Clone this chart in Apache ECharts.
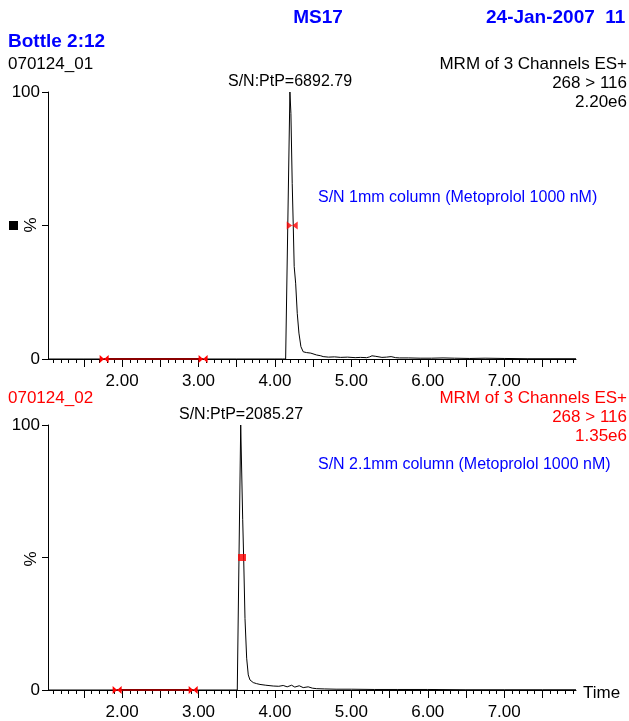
<!DOCTYPE html>
<html>
<head>
<meta charset="utf-8">
<script src="https://cdn.jsdelivr.net/npm/echarts@6/dist/echarts.min.js"></script>
<style>html,body{margin:0;padding:0;background:#fff;}#c{width:629px;height:721px;}</style>
</head>
<body>
<div id="c"></div>
<script>
// ---- data ----
const xMin = 1.03, xMax = 7.94;
const labelValues = [2, 3, 4, 5, 6, 7];
const tickLabels = ['2.00', '3.00', '4.00', '5.00', '6.00', '7.00'];
const majorTicks = [1.5, 2, 2.5, 3, 3.5, 4, 4.5, 5, 5.5, 6, 6.5, 7, 7.5];
const yTicks = [0, 50, 100];
const yLabels = [0, 100];

const topTime = [1.03, 1.5, 2.0, 2.5, 3.0, 3.5, 4.0, 4.10, 4.140, 4.196, 4.209, 4.226, 4.239, 4.252, 4.271, 4.292, 4.314, 4.340, 4.370, 4.414, 4.47, 4.545, 4.60, 4.631, 4.70, 4.78, 4.86, 4.95, 5.05, 5.12, 5.20, 5.24, 5.27, 5.32, 5.40, 5.46, 5.52, 5.58, 5.63, 5.75, 5.90, 6.05, 6.20, 6.35, 6.55, 6.75, 7.0, 7.3, 7.6, 7.94];
const topIntensity = [0, 0, 0, 0, 0, 0, 0, 0, 0, 100, 92, 65.8, 50.9, 34.6, 28.4, 17.1, 9.7, 4.6, 2.7, 2.4, 2.2, 1.5, 1.2, 0.9, 0.7, 0.8, 0.6, 0.7, 0.5, 0.6, 0.5, 0.8, 1.2, 1.0, 0.6, 0.7, 0.9, 0.5, 0.4, 0.4, 0.3, 0.3, 0.4, 0.3, 0.2, 0.3, 0.2, 0.1, 0.1, 0.1];

const botTime = [1.03, 2.0, 3.0, 3.45, 3.507, 3.552, 3.578, 3.591, 3.608, 3.630, 3.651, 3.673, 3.716, 3.76, 3.804, 3.88, 3.978, 4.05, 4.108, 4.16, 4.218, 4.26, 4.318, 4.37, 4.435, 4.49, 4.545, 4.65, 4.8, 5.0, 5.3, 5.6, 6.0, 6.5, 7.0, 7.5, 7.94];
const botIntensity = [0, 0, 0, 0, 0, 100, 64.4, 49.4, 27, 12, 5.7, 3.8, 2.8, 2.4, 2.1, 1.8, 1.5, 1.4, 1.7, 1.2, 1.8, 1.1, 1.6, 0.9, 1.2, 0.7, 0.5, 0.4, 0.3, 0.3, 0.2, 0.2, 0.2, 0.1, 0.1, 0.1, 0.1];

const topNoiseRange = [1.765, 3.06];
const botNoiseRange = [1.935, 2.93];
const topHalfMarker = [4.226, 50];
const botHalfMarker = [3.569, 50];

// ---- chart ----
const FONT = 'Liberation Sans';
const minorTicks = [];
for (let i = 11; i <= 79; i++) minorTicks.push(i / 10);

const grids = [
  { left: 48, right: 53, top: 92, height: 267 },
  { left: 48, right: 53, top: 425, height: 267 }
];

function xAxes(g) {
  return [
    {
      type: 'value', gridIndex: g, min: xMin, max: xMax, position: 'bottom',
      axisLine: { show: true, onZero: false, lineStyle: { color: '#000', width: 1 } },
      axisTick: { show: true, customValues: majorTicks, length: 8, lineStyle: { color: '#000', width: 1 } },
      axisLabel: {
        customValues: labelValues, margin: 14, fontSize: 17, color: '#000', fontFamily: FONT,
        formatter: v => tickLabels[labelValues.indexOf(Math.round(v))] || ''
      },
      splitLine: { show: false }
    },
    {
      type: 'value', gridIndex: g, min: xMin, max: xMax, position: 'bottom',
      axisLine: { show: false },
      axisTick: { show: true, customValues: minorTicks, length: 4, lineStyle: { color: '#000', width: 1 } },
      axisLabel: { show: false },
      splitLine: { show: false }
    }
  ];
}
function yAxis(g) {
  return {
    type: 'value', gridIndex: g, min: 0, max: 100,
    axisLine: { show: true, lineStyle: { color: '#000', width: 1 } },
    axisTick: { show: true, customValues: yTicks, length: 6, lineStyle: { color: '#000' } },
    axisLabel: { customValues: yLabels, margin: 8, fontSize: 17, color: '#000', fontFamily: FONT },
    splitLine: { show: false }
  };
}

const bowtie = 'path://M0,0 L5,4 L0,8 Z M10,0 L5,4 L10,8 Z';

function pairs(t, v) { return t.map((x, i) => [x, v[i]]); }

const series = [
  { type: 'line', xAxisIndex: 0, yAxisIndex: 0, data: pairs(topTime, topIntensity), symbol: 'none', lineStyle: { color: '#000', width: 1 }, animation: false, z: 3 },
  { type: 'line', xAxisIndex: 2, yAxisIndex: 1, data: pairs(botTime, botIntensity), symbol: 'none', lineStyle: { color: '#000', width: 1 }, animation: false, z: 3 },
  { type: 'line', xAxisIndex: 0, yAxisIndex: 0, data: topNoiseRange.map(t => [t, 0]), symbol: bowtie, symbolSize: [9, 8], itemStyle: { color: '#ff0000' }, lineStyle: { color: '#8b0000', width: 2 }, animation: false, z: 4 },
  { type: 'line', xAxisIndex: 2, yAxisIndex: 1, data: botNoiseRange.map(t => [t, 0]), symbol: bowtie, symbolSize: [9, 8], itemStyle: { color: '#ff0000' }, lineStyle: { color: '#8b0000', width: 2 }, animation: false, z: 4 },
  { type: 'scatter', xAxisIndex: 0, yAxisIndex: 0, data: [topHalfMarker], symbol: bowtie, symbolSize: [11, 8], itemStyle: { color: '#ff0000' }, animation: false, z: 5 },
  { type: 'scatter', xAxisIndex: 2, yAxisIndex: 1, data: [botHalfMarker], symbol: 'rect', symbolSize: [8, 7], itemStyle: { color: '#ff0000' }, animation: false, z: 5 }
];

function txt(x, y, text, opts) {
  return {
    type: 'text', x: x, y: y, silent: true,
    style: Object.assign({ text: text, fontFamily: FONT, fontSize: 17, fill: '#000', align: 'left', verticalAlign: 'middle' }, opts || {})
  };
}
const BLUE = '#0000ff', RED = '#ff0000';
const graphics = [
  txt(318, 18, 'MS17', { fontWeight: 'bold', fontSize: 19, fill: BLUE, align: 'center' }),
  txt(486, 18, '24-Jan-2007  11', { fontWeight: 'bold', fontSize: 19, fill: BLUE }),
  txt(8, 42, 'Bottle 2:12', { fontWeight: 'bold', fontSize: 19, fill: BLUE }),
  txt(8, 64, '070124_01'),
  txt(627, 64, 'MRM of 3 Channels ES+', { align: 'right' }),
  txt(627, 83, '268 > 116', { align: 'right' }),
  txt(627, 102, '2.20e6', { align: 'right' }),
  txt(290, 82, 'S/N:PtP=6892.79', { align: 'center', fontSize: 16 }),
  txt(318, 198, 'S/N 1mm column (Metoprolol 1000 nM)', { fontSize: 16, fill: BLUE }),
  { type: 'rect', shape: { x: 9, y: 221, width: 9, height: 9 }, style: { fill: '#000' }, silent: true },
  { type: 'text', x: 31, y: 225, rotation: Math.PI / 2, silent: true, style: { text: '%', fontFamily: FONT, fontSize: 17, fill: '#000', align: 'center', verticalAlign: 'middle' } },
  txt(8, 398, '070124_02', { fill: RED }),
  txt(627, 398, 'MRM of 3 Channels ES+', { align: 'right', fill: RED }),
  txt(627, 417, '268 > 116', { align: 'right', fill: RED }),
  txt(627, 436, '1.35e6', { align: 'right', fill: RED }),
  txt(241, 415, 'S/N:PtP=2085.27', { align: 'center', fontSize: 16 }),
  txt(318, 465, 'S/N 2.1mm column (Metoprolol 1000 nM)', { fontSize: 16, fill: BLUE }),
  { type: 'text', x: 31, y: 559, rotation: Math.PI / 2, silent: true, style: { text: '%', fontFamily: FONT, fontSize: 17, fill: '#000', align: 'center', verticalAlign: 'middle' } },
  txt(583, 693, 'Time')
];

const chart = echarts.init(document.getElementById('c'), null, { renderer: 'canvas' });
chart.setOption({
  backgroundColor: '#fff',
  animation: false,
  grid: grids,
  xAxis: xAxes(0).concat(xAxes(1)),
  yAxis: [yAxis(0), yAxis(1)],
  series: series,
  graphic: graphics
});
</script>
</body>
</html>
